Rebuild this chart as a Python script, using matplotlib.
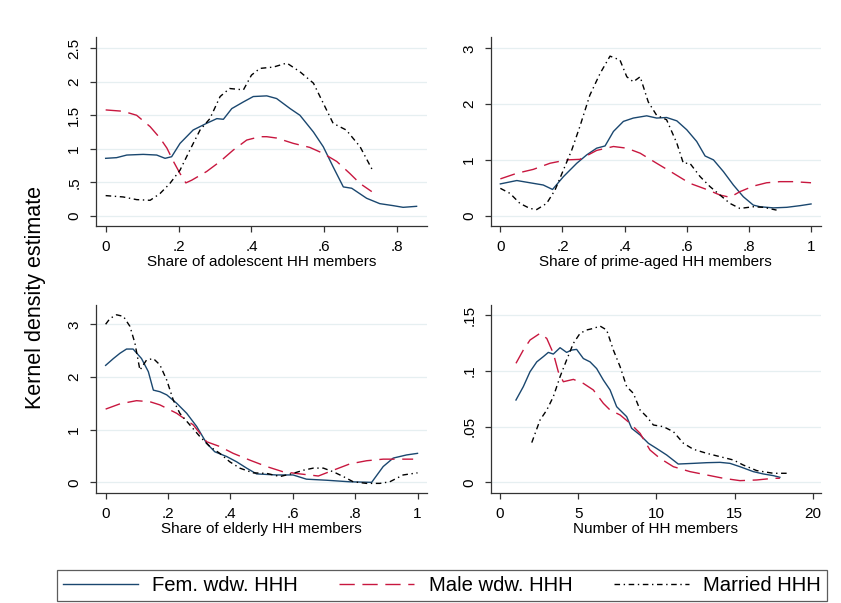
import numpy as np
import matplotlib.pyplot as plt

plt.rcParams['font.family'] = ['Liberation Sans', 'DejaVu Sans']

# --- panel 1: share of adolescent HH members
adol_fem_x = [0, .03, .058, .103, .14, .163, .181, .204, .24, .277, .305, .323, .346, .378, .405, .442,
              .469, .506, .533, .57, .597, .624, .652, .675, .716, .752, .789, .816, .853]
adol_fem_y = [.857, .867, .906, .916, .906, .857, .881, 1.08, 1.28, 1.38, 1.45, 1.44, 1.60, 1.70, 1.78, 1.79,
              1.75, 1.60, 1.50, 1.25, 1.03, .73, .43, .41, .26, .18, .15, .125, .14]
adol_male_x = [0, .048, .085, .122, .149, .168, .186, .204, .22, .236, .277, .314, .35, .387, .423, .442,
               .469, .515, .56, .597, .634, .67, .698, .73]
adol_male_y = [1.58, 1.56, 1.50, 1.33, 1.16, 1.01, .81, .63, .49, .53, .66, .81, .98, 1.13, 1.18, 1.18,
               1.16, 1.08, 1.02, .93, .81, .63, .48, .36]
adol_mar_x = [0, .048, .085, .122, .149, .176, .204, .231, .259, .286, .314, .34, .378, .40, .423, .46,
              .497, .533, .57, .597, .624, .66, .698, .734]
adol_mar_y = [.30, .28, .24, .23, .33, .48, .68, .98, 1.28, 1.45, 1.78, 1.90, 1.88, 2.10, 2.20, 2.22,
              2.28, 2.15, 1.98, 1.68, 1.38, 1.28, 1.03, .66]

# --- panel 2: share of prime-aged HH members
prime_fem_x = [0, .053, .106, .138, .168, .203, .246, .278, .31, .337, .364, .396, .428, .471, .503, .535,
               .568, .6, .632, .659, .686, .718, .75, .782, .814, .836, .879, .922, .965, 1.0]
prime_fem_y = [.57, .63, .58, .55, .47, .70, .94, 1.09, 1.21, 1.25, 1.51, 1.69, 1.75, 1.79, 1.75, 1.76,
               1.70, 1.54, 1.33, 1.07, 1.0, .79, .55, .34, .19, .16, .14, .15, .18, .21]
prime_male_x = [0, .053, .106, .16, .214, .256, .31, .364, .407, .45, .503, .557, .61, .664, .707, .739,
                .771, .814, .857, .9, .943, 1.0]
prime_male_y = [.66, .76, .83, .94, 1.0, 1.01, 1.17, 1.24, 1.21, 1.12, .94, .76, .58, .47, .37, .33,
                .43, .53, .59, .61, .61, .59]
prime_mar_x = [0, .031, .063, .095, .117, .149, .176, .203, .23, .256, .288, .321, .353, .385, .407, .428,
               .45, .476, .503, .535, .568, .589, .61, .643, .675, .707, .739, .771, .814, .847, .889]
prime_mar_y = [.49, .40, .22, .13, .11, .22, .46, .82, 1.18, 1.60, 2.16, 2.55, 2.86, 2.79, 2.49, 2.40,
               2.49, 2.04, 1.80, 1.72, 1.30, .94, .94, .70, .52, .37, .22, .13, .16, .15, .10]

# --- panel 3: share of elderly HH members
eld_fem_x = [0, .025, .046, .067, .088, .115, .137, .153, .174, .196, .228, .26, .292, .324, .35, .388,
             .42, .452, .484, .548, .601, .644, .708, .783, .853, .89, .922, .965, 1.0]
eld_fem_y = [2.22, 2.35, 2.45, 2.53, 2.53, 2.35, 2.10, 1.75, 1.72, 1.66, 1.50, 1.31, 1.06, .74, .58, .49,
             .39, .27, .16, .14, .14, .06, .04, .01, 0.0, .30, .46, .52, .55]
eld_male_x = [0, .046, .099, .142, .174, .228, .281, .324, .366, .409, .463, .516, .569, .623, .682, .73,
              .783, .837, .89, .943, .986]
eld_male_y = [1.39, 1.49, 1.55, 1.53, 1.47, 1.31, 1.09, .77, .68, .55, .42, .30, .20, .16, .12, .23,
              .35, .41, .44, .44, .44]
eld_mar_x = [0, .014, .035, .057, .078, .094, .11, .131, .153, .174, .196, .217, .238, .27, .302, .334,
             .366, .398, .43, .473, .516, .559, .601, .634, .666, .698, .73, .762, .794, .837, .879, .911,
             .954, 1.0]
eld_mar_y = [3.0, 3.11, 3.18, 3.15, 2.96, 2.64, 2.13, 2.32, 2.35, 2.23, 1.94, 1.56, 1.31, 1.09, .87, .68,
             .55, .39, .27, .18, .17, .11, .17, .23, .27, .27, .20, .11, .01, -.02, -.02, .01,
             .14, .18]

# --- panel 4: number of HH members
size_fem_x = [1.02, 1.49, 1.92, 2.35, 2.77, 3.09, 3.41, 3.84, 4.26, 4.58, 4.9, 5.33, 5.76, 6.18, 6.61, 7.04,
              7.46, 8.1, 8.42, 8.96, 9.49, 10.0, 10.66, 11.4, 12.37, 13.22, 14.07, 14.71, 15.35, 16.2, 16.84,
              17.48, 17.9]
size_fem_y = [.0738, .0858, .0992, .108, .1127, .1165, .115, .1207, .1165, .1186, .1192, .111, .108, .102,
              .0917, .0828, .0678, .0589, .0484, .0424, .035, .0305, .0245, .0164, .017, .0176, .0179, .017,
              .014, .0096, .0075, .006, .0045]
size_male_x = [1.02, 1.49, 1.92, 2.56, 2.99, 3.41, 3.73, 4.05, 4.69, 5.33, 5.97, 6.61, 7.04, 7.68, 8.32,
               8.96, 9.59, 10.23, 11.09, 12.15, 13.22, 14.29, 15.35, 16.42, 17.48, 17.9]
size_male_y = [.1067, .1186, .1276, .1336, .129, .1156, .099, .0902, .0923, .0887, .0828, .0708, .0648,
               .0604, .0529, .0439, .029, .0215, .014, .0096, .0066, .0036, .0015, .0021, .0036, .0036]
size_mar_x = [2.03, 2.56, 2.99, 3.41, 3.84, 4.26, 4.69, 5.12, 5.54, 5.97, 6.4, 6.82, 7.25, 7.68, 8.1, 8.53,
              8.96, 9.38, 9.81, 10.45, 11.09, 11.73, 12.37, 13.22, 14.07, 14.93, 15.56, 16.42, 17.48, 18.55]
size_mar_y = [.0356, .0559, .0648, .0768, .0947, .1097, .1246, .1336, .1366, .138, .1401, .1366, .1186,
              .1037, .0858, .0798, .0648, .0589, .0514, .0499, .0454, .035, .0296, .026, .023, .02, .0155,
              .0105, .0081, .0081]

series_names = ["Fem. wdw. HHH", "Male wdw. HHH", "Married HHH"]
x_titles = ["Share of adolescent HH members", "Share of prime-aged HH members",
            "Share of elderly HH members", "Number of HH members"]
x_ticks = [[0, .2, .4, .6, .8], [0, .2, .4, .6, .8, 1], [0, .2, .4, .6, .8, 1], [0, 5, 10, 15, 20]]
x_ticklabels = [["0", ".2", ".4", ".6", ".8"], ["0", ".2", ".4", ".6", ".8", "1"],
                ["0", ".2", ".4", ".6", ".8", "1"], ["0", "5", "10", "15", "20"]]
y_ticks = [[0, .5, 1, 1.5, 2, 2.5], [0, 1, 2, 3], [0, 1, 2, 3], [0, .05, .1, .15]]
y_ticklabels = [["0", ".5", "1", "1.5", "2", "2.5"], ["0", "1", "2", "3"], ["0", "1", "2", "3"],
                ["0", ".05", ".1", ".15"]]

panels = [
    [(adol_fem_x, adol_fem_y), (adol_male_x, adol_male_y), (adol_mar_x, adol_mar_y)],
    [(prime_fem_x, prime_fem_y), (prime_male_x, prime_male_y), (prime_mar_x, prime_mar_y)],
    [(eld_fem_x, eld_fem_y), (eld_male_x, eld_male_y), (eld_mar_x, eld_mar_y)],
    [(size_fem_x, size_fem_y), (size_male_x, size_male_y), (size_mar_x, size_mar_y)],
]

# layout (figure fractions) and axis limits
positions = [[0.1141, 0.6252, 0.3936, 0.3134], [0.5835, 0.6252, 0.3927, 0.3134],
             [0.1141, 0.1829, 0.3931, 0.3113], [0.5835, 0.1829, 0.3927, 0.3113]]
xlims = [(-0.0266, 0.8815), (-0.031, 1.032), (-0.031, 1.029), (-0.595, 20.53)]
ylims = [(-0.154, 2.669), (-0.185, 3.2025), (-0.197, 3.366), (-0.00932, 0.159)]

colors = ["#1a476f", "#c8173f", "black"]
styles = [dict(linestyle="-"), dict(dashes=(11, 5.5)), dict(dashes=(4, 2.6, 1, 2.6))]

fig = plt.figure(figsize=(8.41, 6.03), dpi=100)

handles = []
for i in range(4):
    ax = fig.add_axes(positions[i])
    for j, (xs, ys) in enumerate(panels[i]):
        ln, = ax.plot(xs, ys, color=colors[j], lw=1.0, **styles[j])
        if i == 0:
            handles.append(ln)
    ax.set_xlim(xlims[i])
    ax.set_ylim(ylims[i])
    ax.set_xticks(x_ticks[i])
    ax.set_xticklabels(x_ticklabels[i])
    ax.set_yticks(y_ticks[i])
    ax.set_yticklabels(y_ticklabels[i], rotation=90, va="center")
    ax.tick_params(axis="both", labelsize=11, length=4.5, width=0.9, color="#333333")
    ax.tick_params(axis="x", pad=5.5)
    ax.tick_params(axis="y", pad=6)
    ax.set_xlabel(x_titles[i], fontsize=11, labelpad=1)
    for s in ["top", "right"]:
        ax.spines[s].set_visible(False)
    for s in ["left", "bottom"]:
        ax.spines[s].set_color("#333333")
        ax.spines[s].set_linewidth(0.9)
    ax.grid(axis="y", color="#e6eff1", lw=0.9)
    ax.set_axisbelow(True)

fig.text(0.042, 0.5066, "Kernel density estimate", rotation=90, fontsize=15.5,
         ha="center", va="center")

leg = fig.legend(handles, series_names, loc="lower left", ncol=3, mode="expand",
                 bbox_to_anchor=(0.0674, 0.0033, 0.916, 0.0625), fontsize=14.6,
                 frameon=True, fancybox=False, edgecolor="#333333", borderaxespad=0,
                 handlelength=3.7, handletextpad=0.7, borderpad=0.3)
leg.get_frame().set_linewidth(0.9)

fig.savefig("out.png", dpi=100)
